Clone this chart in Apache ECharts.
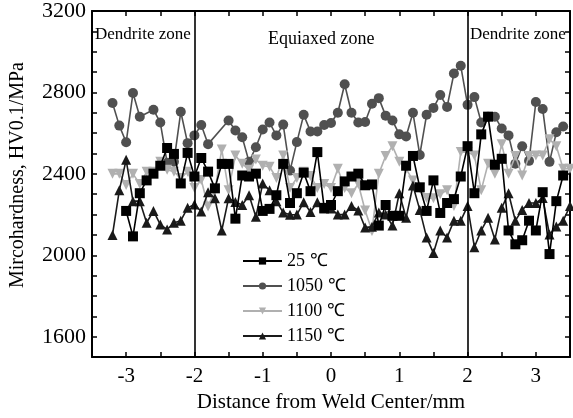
<!DOCTYPE html>
<html>
<head>
<meta charset="utf-8">
<script src="https://cdn.jsdelivr.net/npm/echarts@6/dist/echarts.min.js"></script>
<style>
html,body{margin:0;padding:0;background:#fff;}
#c{width:573px;height:418px;}
</style>
</head>
<body>
<div id="c"></div>
<script>
var xs = [-3.2,-3.1,-3.0,-2.9,-2.8,-2.7,-2.6,-2.5,-2.4,-2.3,-2.2,-2.1,-2.0,-1.9,-1.8,-1.7,-1.6,-1.5,-1.4,-1.3,-1.2,-1.1,-1.0,-0.9,-0.8,-0.7,-0.6,-0.5,-0.4,-0.3,-0.2,-0.1,0.0,0.1,0.2,0.3,0.4,0.5,0.6,0.7,0.8,0.9,1.0,1.1,1.2,1.3,1.4,1.5,1.6,1.7,1.8,1.9,2.0,2.1,2.2,2.3,2.4,2.5,2.6,2.7,2.8,2.9,3.0,3.1,3.2,3.3,3.4,3.5];

var hv25 = [null,null,2218,2093,2305,2368,2401,2440,2527,2498,2353,2503,2387,2478,2411,2329,2449,2449,2180,2392,2387,2401,2218,2228,2295,2449,2257,2305,2406,2315,2507,2233,2247,2315,2363,2387,2401,2344,2348,2146,2247,2194,2194,2440,2488,2334,2218,2368,2208,2257,2276,2387,2536,2305,2594,2681,2445,2474,2122,2054,2074,2170,2122,2310,2006,2266,2392,null];

var hv1050 = [2748,2637,2555,2797,2681,null,2715,2652,2455,2460,2705,2551,2589,2640,2546,null,null,2662,2613,2580,2459,2531,2618,2652,2589,2642,2416,2556,2690,2608,2608,2640,2650,2700,2840,2700,2652,2655,2744,2772,2686,2662,2594,2584,2700,2493,2690,2724,2787,2729,2893,2931,2739,2777,2652,2681,2681,2623,2589,2450,2536,2464,2753,2719,2459,2604,2633,null];

var hv1100 = [2400,2400,2345,2400,2350,2410,2410,2460,2420,2410,2380,2410,2330,2370,2240,2320,2520,2320,2490,2450,2420,2470,2440,2435,2380,2490,2330,2380,2410,2390,2330,2350,2330,2425,2330,2305,2350,2220,2120,2400,2488,2536,2459,2425,2368,2330,2281,2280,2300,2320,2242,2507,2507,2490,2320,2450,2400,2546,2401,2488,2392,2488,2490,2490,2570,2536,2425,2425];

var hv1150 = [2100,2319,2469,2266,2266,2160,2218,2151,2127,2160,2170,2233,2250,2215,2310,2280,2122,2280,2262,2247,2295,2189,2353,2319,2266,2210,2199,2200,2260,2213,2260,2230,2230,2200,2200,2242,2220,2136,2140,2210,2200,2146,2305,2184,2343,2223,2088,2011,2122,2088,2170,2170,2242,2040,2122,2184,2078,2233,2305,2170,2223,2257,2257,2281,2102,2141,2170,2242];

var seriesNames = ['25 \u2103','1050 \u2103','1100 \u2103','1150 \u2103'];
var zoneLabels = ['Dendrite zone','Equiaxed zone','Dendrite zone'];
var zoneBounds = [-2, 2];

function pairs(vals){
  var out = [];
  for (var i = 0; i < xs.length; i++) {
    if (vals[i] !== null) out.push([xs[i], vals[i]]);
  }
  return out;
}

var FONT = 'Liberation Serif';
var chart = echarts.init(document.getElementById('c'), null, {renderer:'canvas'});

var axisCommonX = {
  type:'value', min:-3.5, max:3.5, interval:0.5,
  axisLine:{show:true, onZero:false, lineStyle:{color:'#000', width:2}},
  axisTick:{show:true, inside:true, length:5, lineStyle:{color:'#000', width:1.5}},
  splitLine:{show:false}
};
var axisCommonY = {
  type:'value', min:1500, max:3200, interval:100,
  axisLine:{show:true, onZero:false, lineStyle:{color:'#000', width:2}},
  axisTick:{show:true, inside:true, length:5, lineStyle:{color:'#000', width:1.5}},
  splitLine:{show:false}
};

function mkSeries(name, vals, color, symbol, size, z){
  return {
    name:name, type:'line', data:pairs(vals),
    symbol:symbol, symbolSize:size, showSymbol:true,
    connectNulls:true, z:z,
    lineStyle:{color:color, width:1.6},
    itemStyle:{color:color},
    emphasis:{disabled:true},
    animation:false
  };
}

var s25 = mkSeries(seriesNames[0], hv25, '#000000', 'rect', 10, 5);
s25.markLine = {
  silent:true, symbol:['none','none'], animation:false,
  label:{show:false},
  lineStyle:{color:'#000', width:1.6, type:'solid'},
  data: zoneBounds.map(function(b){ return {xAxis:b}; })
};

var option = {
  backgroundColor:'#fff',
  animation:false,
  grid:{left:88, right:1, top:10, bottom:56, containLabel:false},
  legend:{
    orient:'vertical', left:237, top:247,
    itemWidth:39, itemHeight:9, itemGap:7,
    textStyle:{fontFamily:FONT, fontSize:18, color:'#000'},
    data:seriesNames
  },
  xAxis:[
    Object.assign({}, axisCommonX, {
      position:'bottom',
      name:'Distance from Weld Center/mm', nameLocation:'middle', nameGap:31,
      nameTextStyle:{fontFamily:FONT, fontSize:21, color:'#000'},
      axisLabel:{show:true, margin:9, color:'#000', fontFamily:FONT, fontSize:21,
        formatter:function(v){ return Math.abs(v - Math.round(v)) < 1e-6 ? String(Math.round(v)) : ''; }}
    }),
    Object.assign({}, axisCommonX, {position:'top', axisLabel:{show:false}})
  ],
  yAxis:[
    Object.assign({}, axisCommonY, {
      position:'left',
      name:'Mircohardness, HV0.1/MPa', nameLocation:'middle', nameGap:64,
      nameTextStyle:{fontFamily:FONT, fontSize:20, color:'#000', padding:[0,0,0,18]},
      axisLabel:{show:true, margin:6, color:'#000', fontFamily:FONT, fontSize:22,
        formatter:function(v){ return ((v - 1600) % 400 === 0) ? String(v) : ''; }}
    }),
    Object.assign({}, axisCommonY, {position:'right', axisLabel:{show:false}})
  ],
  graphic:[
    {type:'text', left:95, top:26, style:{text:zoneLabels[0], font:'17px "Liberation Serif"', fill:'#000'}},
    {type:'text', left:268, top:30, style:{text:zoneLabels[1], font:'18px "Liberation Serif"', fill:'#000'}},
    {type:'text', left:470, top:26, style:{text:zoneLabels[2], font:'17px "Liberation Serif"', fill:'#000'}}
  ],
  series:[
    s25,
    mkSeries(seriesNames[1], hv1050, '#505050', 'circle', 10, 2),
    mkSeries(seriesNames[2], hv1100, '#b0b0b0', 'triangle', 10, 3),
    mkSeries(seriesNames[3], hv1150, '#1a1a1a', 'triangle', 10, 4)
  ]
};
option.series[2].symbolRotate = 180;
chart.setOption(option);
</script>
</body>
</html>
